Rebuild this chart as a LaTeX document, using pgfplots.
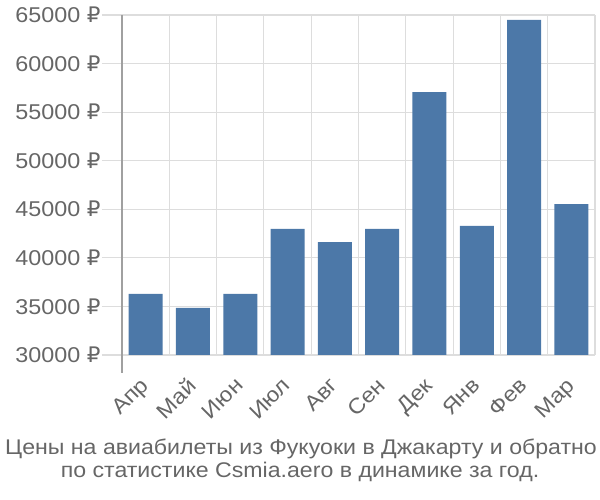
\documentclass[border=0pt]{standalone}
\usepackage{fontspec}
\setmainfont{Liberation Sans}[FakeStretch=1.09]
\newfontfamily\dv{DejaVu Sans}
\newcommand{\rub}{{\dv ₽}}
\usepackage{pgfplots}
\pgfplotsset{compat=1.18}
\definecolor{barc}{HTML}{4C78A8}
\definecolor{txt}{HTML}{666666}
\definecolor{grd}{HTML}{DDDDDD}
\definecolor{axl}{HTML}{A0A0A0}
\begin{document}
\begin{tikzpicture}[x=1bp,y=1bp]
\useasboundingbox (0,0) rectangle (600,500);
\begin{axis}[
  at={(122bp,145bp)}, anchor=south west,
  scale only axis, width=473bp, height=340bp,
  xmin=0, xmax=10, ymin=30000, ymax=65000,
  scaled y ticks=false, scaled x ticks=false,
  axis line style={draw=none},
  xtick pos=bottom, ytick pos=left,
  clip=false,
  ytick={30000,35000,40000,45000,50000,55000,60000,65000},
  yticklabels={30000 \rub,35000 \rub,40000 \rub,45000 \rub,50000 \rub,55000 \rub,60000 \rub,65000 \rub},
  ymajorgrids, major grid style={grd, line width=1.1bp},
  xtick={0.5,1.5,...,9.5},
  xticklabels={Апр,Май,Июн,Июл,Авг,Сен,Дек,Янв,Фев,Мар},
  minor xtick={0,1,...,10}, xminorgrids, minor grid style={grd, line width=1.1bp},
  tick align=outside,
  major tick length=20bp, minor tick length=18bp,
  xtick style={draw=none},
  minor tick style={grd, line width=1.1bp},
  ytick style={grd, line width=1.1bp},
  yticklabel style={font=\fontsize{21.5}{24}\selectfont, text=txt, xshift=2bp},
  xticklabel style={font=\fontsize{21.5}{24}\selectfont, text=txt, rotate=45, anchor=north east, xshift=-2bp, yshift=7bp},
]
\addplot[ybar, bar width=34bp, fill=barc, draw=none] coordinates {
(0.5,36280) (1.5,34850) (2.5,36280) (3.5,42970) (4.5,41630)
(5.5,42970) (6.5,57050) (7.5,43280) (8.5,64500) (9.5,45540)};
\draw[axl, line width=1.2bp] (axis cs:0,65000) -- (axis cs:0,30000) -- ([yshift=-18bp]axis cs:0,30000);
\end{axis}
\node[anchor=base, text=txt, font=\fontsize{21.3}{24}\selectfont] at (301,45) {Цены на авиабилеты из Фукуоки в Джакарту и обратно};
\node[anchor=base, text=txt, font=\fontsize{21.3}{24}\selectfont] at (300,22) {по статистике Csmia.aero в динамике за год.};
\end{tikzpicture}
\end{document}
